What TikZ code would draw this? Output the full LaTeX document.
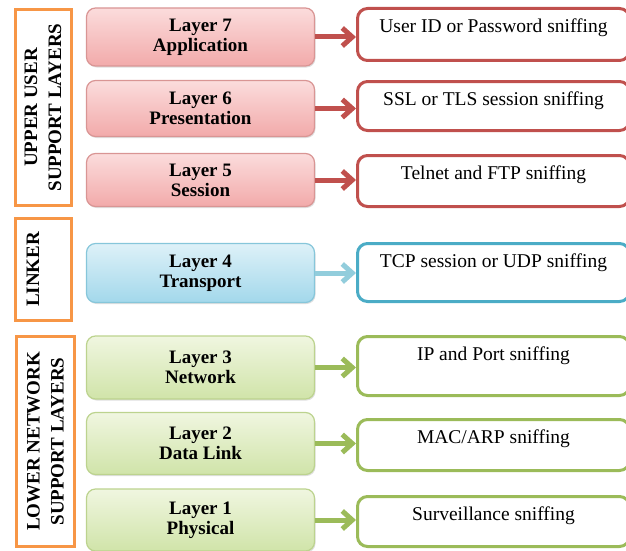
\documentclass[tikz,border=0pt]{standalone}
\usepackage{fontspec}
\setmainfont{LiberationSerif}[Extension=.ttf, UprightFont=*-Regular, BoldFont=*-Bold,
  ItalicFont=*-Italic, BoldItalicFont=*-BoldItalic]
\usetikzlibrary{arrows.meta, positioning, shadows}
\definecolor{naranja}{HTML}{F79646}
\definecolor{rojo}{HTML}{C0504D}
\definecolor{rojoBorde}{HTML}{D99594}
\definecolor{rojoArriba}{HTML}{FBDCDC}
\definecolor{rojoAbajo}{HTML}{F2AAAA}
\definecolor{azul}{HTML}{4BACC6}
\definecolor{azulFlecha}{HTML}{92CDDC}
\definecolor{azulBorde}{HTML}{86C6DA}
\definecolor{azulArriba}{HTML}{DDF1F8}
\definecolor{azulAbajo}{HTML}{A3D8EB}
\definecolor{verde}{HTML}{9BBB59}
\definecolor{verdeBorde}{HTML}{BCD38E}
\definecolor{verdeArriba}{HTML}{F0F6E0}
\definecolor{verdeAbajo}{HTML}{D0E4A9}

\begin{document}
\begin{tikzpicture}[x=1pt, y=-1pt,
  grupo/.style={draw=naranja, line width=3pt, rotate=90, align=center, inner sep=0pt,
    font=\bfseries\fontsize{19}{24}\selectfont},
  capa/.style={rounded corners=9pt, line width=1.2pt, align=center, inner sep=0pt,
    minimum width=228pt, font=\bfseries\fontsize{19}{20}\selectfont,
    drop shadow={opacity=0.25, shadow xshift=1pt, shadow yshift=-1.5pt}},
  capaR/.style={capa, draw=rojoBorde, top color=rojoArriba, bottom color=rojoAbajo},
  capaA/.style={capa, draw=azulBorde, top color=azulArriba, bottom color=azulAbajo},
  capaV/.style={capa, draw=verdeBorde, top color=verdeArriba, bottom color=verdeAbajo},
  ataque/.style={draw=#1, fill=white, line width=3pt, rounded corners=10pt, inner sep=0pt,
    minimum width=272pt, text height=24pt, font=\fontsize{19.5}{20}\selectfont},
  flecha/.style={draw=#1, line width=5pt, -{Straight Barb[length=10pt, width=18pt]}}]

\useasboundingbox (0,0) rectangle (626,551);
\clip (0,0) rectangle (626,551);

% Grupos
\node[grupo, minimum width=196pt, minimum height=56pt] (upper) at (43,107.5)
  {UPPER USER\\SUPPORT LAYERS};
\node[grupo, minimum width=102pt, minimum height=56pt, text depth=20pt] (linker) at (43,269.5)
  {LINKER};
\node[grupo, minimum width=210pt, minimum height=58pt] (lower) at (45.5,441.5)
  {LOWER NETWORK\\SUPPORT LAYERS};

% Capas
\node[capaR, minimum height=58pt] (l7) at (200.5,37) {Layer 7\\Application};
\node[capaR, minimum height=56pt] (l6) at (200.5,108.5) {Layer 6\\Presentation};
\node[capaR, minimum height=53pt] (l5) at (200.5,180) {Layer 5\\Session};
\node[capaA, minimum height=59pt] (l4) at (200.5,273) {Layer 4\\Transport};
\node[capaV, minimum height=63pt] (l3) at (200.5,367.5) {Layer 3\\Network};
\node[capaV, minimum height=62pt] (l2) at (200.5,443.5) {Layer 2\\Data Link};
\node[capaV, minimum height=62pt] (l1) at (200.5,520) {Layer 1\\Physical};

% Ataques
\node[ataque=rojo, text depth=28pt] (s7) at (493.5,34.5) {User ID or Password sniffing};
\node[ataque=rojo, text depth=25pt] (s6) at (493.5,106) {SSL or TLS session sniffing};
\node[ataque=rojo, text depth=27pt] (s5) at (493.5,181) {Telnet and FTP sniffing};
\node[ataque=azul, text depth=34pt] (s4) at (493.5,272.5) {TCP session or UDP sniffing};
\node[ataque=verde, text depth=35pt] (s3) at (493.5,366) {IP and Port sniffing};
\node[ataque=verde, text depth=27pt] (s2) at (493.5,445) {MAC/ARP sniffing};
\node[ataque=verde, text depth=26pt] (s1) at (493.5,521.5) {Surveillance sniffing};

% Flechas
\draw[flecha=rojo] (l7.east) -- (l7.east -| s7.west);
\draw[flecha=rojo] (l6.east) -- (l6.east -| s6.west);
\draw[flecha=rojo] (l5.east) -- (l5.east -| s5.west);
\draw[flecha=azulFlecha] (l4.east) -- (l4.east -| s4.west);
\draw[flecha=verde] (l3.east) -- (l3.east -| s3.west);
\draw[flecha=verde] (l2.east) -- (l2.east -| s2.west);
\draw[flecha=verde] (l1.east) -- (l1.east -| s1.west);
\end{tikzpicture}
\end{document}
